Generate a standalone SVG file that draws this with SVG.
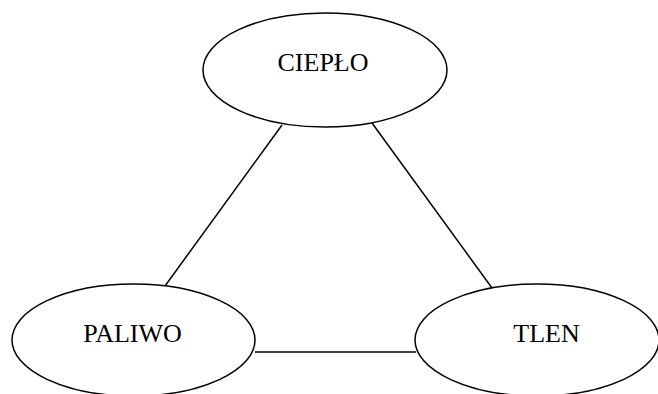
<svg xmlns="http://www.w3.org/2000/svg" width="658" height="394" viewBox="0 0 658 394">
<style>
.n{fill:#fff;stroke:#000;stroke-width:1.5}
.c{stroke:#000;stroke-width:1.5;fill:none}
.t{font-family:"Liberation Serif","Times New Roman",serif;font-size:26px;fill:#000;text-anchor:middle}
</style>
<rect width="658" height="394" fill="#fff"/>
<g id="connectors">
<line class="c" x1="282" y1="125" x2="165" y2="286"/>
<line class="c" x1="372" y1="123" x2="492" y2="288"/>
<line class="c" x1="255" y1="352" x2="416" y2="352"/>
</g>
<g id="cieplo">
<ellipse class="n" cx="325" cy="70" rx="122" ry="57"/>
<text class="t" x="323" y="71">CIEPŁO</text>
</g>
<g id="paliwo">
<ellipse class="n" cx="133.5" cy="340" rx="121.5" ry="56"/>
<text class="t" x="132.5" y="342">PALIWO</text>
</g>
<g id="tlen">
<ellipse class="n" cx="537" cy="340" rx="122" ry="56"/>
<text class="t" x="546.5" y="342">TLEN</text>
</g>
</svg>
